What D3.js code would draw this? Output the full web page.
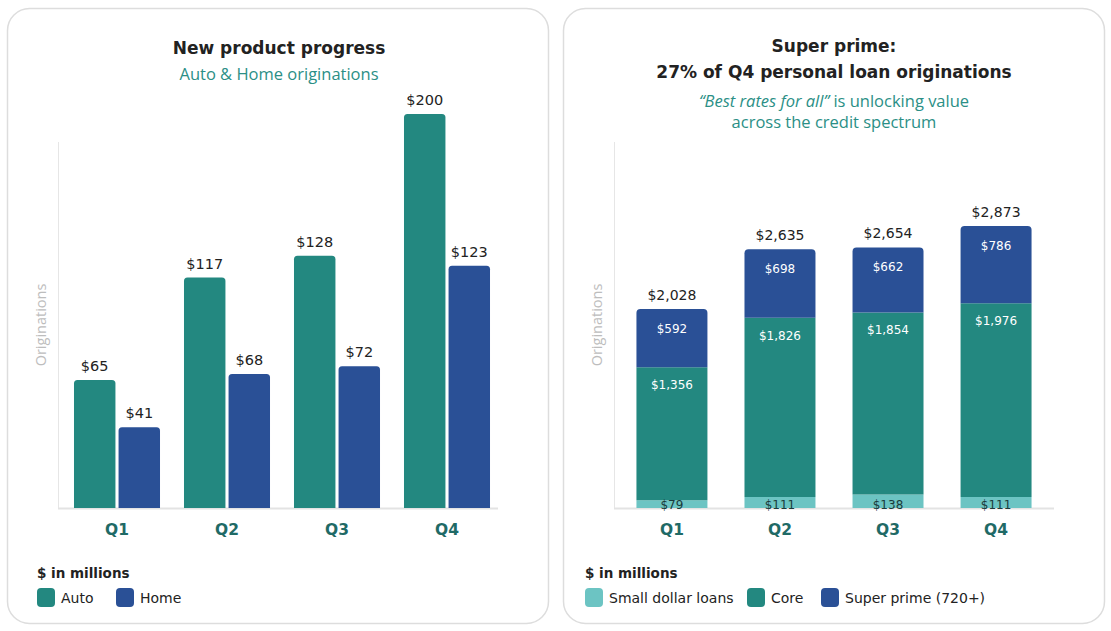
<!DOCTYPE html>
<html>
<head>
<meta charset="utf-8">
<script src="https://cdn.jsdelivr.net/npm/d3@7"></script>
<style>
  html, body { margin: 0; padding: 0; background: #ffffff; }
  svg { display: block; }
</style>
</head>
<body>
<svg id="chart" width="1111" height="631"></svg>
<script>
// ---- Data ----
const quarters = ["Q1", "Q2", "Q3", "Q4"];
const autoValues = [65, 117, 128, 200];
const homeValues = [41, 68, 72, 123];
const leftSeries = ["Auto", "Home"];

const smallDollarValues = [79, 111, 138, 111];
const coreValues = [1356, 1826, 1854, 1976];
const superPrimeValues = [592, 698, 662, 786];
const totalValues = [2028, 2635, 2654, 2873];
const rightSeries = ["Small dollar loans", "Core", "Super prime (720+)"];

// ---- Styles ----
const C_TEAL = "#238880";
const C_BLUE = "#2a5096";
const C_LIGHT = "#6cc4c3";
const C_SUB = "#2b8f86";
const C_TEXT = "#222222";
const C_QLAB = "#1f6a66";
const FONT_HEAD = "'DejaVu Sans', sans-serif";
const FONT_BODY = "'Open Sans', sans-serif";

const svg = d3.select("#chart");

// Card backgrounds
svg.append("rect").attr("x", 7.5).attr("y", 8.5).attr("width", 541).attr("height", 615)
  .attr("rx", 22).attr("fill", "#fff").attr("stroke", "#dddddd").attr("stroke-width", 1.5);
svg.append("rect").attr("x", 563.5).attr("y", 8.5).attr("width", 541).attr("height", 615)
  .attr("rx", 22).attr("fill", "#fff").attr("stroke", "#dddddd").attr("stroke-width", 1.5);

function topRoundedPath(x, y, w, h, r) {
  r = Math.min(r, h, w / 2);
  return `M${x},${y + h}V${y + r}Q${x},${y} ${x + r},${y}H${x + w - r}Q${x + w},${y} ${x + w},${y + r}V${y + h}Z`;
}

// ============ LEFT CHART ============
const L = svg.append("g");
L.append("text").attr("x", 279).attr("y", 54).attr("text-anchor", "middle")
  .attr("font-family", FONT_HEAD).attr("font-weight", 700).attr("font-size", 17)
  .attr("fill", C_TEXT).text("New product progress");
L.append("text").attr("x", 279).attr("y", 80).attr("text-anchor", "middle")
  .attr("font-family", FONT_BODY).attr("font-size", 16.5)
  .attr("fill", C_SUB).text("Auto & Home originations");

const lx = d3.scaleBand().domain(quarters).range([62, 502]).paddingInner(0.218).paddingOuter(0.109);
const ly = d3.scaleLinear().domain([0, 200]).range([508, 114]);
const lsub = d3.scaleBand().domain(leftSeries).range([0, lx.bandwidth()]).paddingInner(0.07);

// axis lines
L.append("line").attr("x1", 58.5).attr("x2", 58.5).attr("y1", 142).attr("y2", 508)
  .attr("stroke", "#e6e6e6").attr("stroke-width", 1);
L.append("line").attr("x1", 58).attr("x2", 498).attr("y1", 508.5).attr("y2", 508.5)
  .attr("stroke", "#e3e3e3").attr("stroke-width", 2);

L.append("text").attr("transform", "translate(46,325) rotate(-90)").attr("text-anchor", "middle")
  .attr("font-family", FONT_BODY).attr("font-size", 14.5).attr("fill", "#bdbdbd").text("Originations");

const leftData = quarters.map((q, i) => ({ q, vals: [
  { s: "Auto", v: autoValues[i], c: C_TEAL },
  { s: "Home", v: homeValues[i], c: C_BLUE }
]}));

const lg = L.selectAll("g.grp").data(leftData).join("g").attr("class", "grp")
  .attr("transform", d => `translate(${lx(d.q)},0)`);
lg.selectAll("path").data(d => d.vals).join("path")
  .attr("d", d => topRoundedPath(lsub(d.s), ly(d.v), lsub.bandwidth(), ly(0) - ly(d.v), 3.5))
  .attr("fill", d => d.c);
lg.selectAll("text.val").data(d => d.vals).join("text").attr("class", "val")
  .attr("x", d => lsub(d.s) + lsub.bandwidth() / 2).attr("y", d => ly(d.v) - 9)
  .attr("text-anchor", "middle").attr("font-family", FONT_HEAD).attr("font-size", 14.5)
  .attr("fill", C_TEXT).text(d => "$" + d.v);

// x axis labels
const lxAxis = L.append("g").attr("transform", "translate(0,508)")
  .call(d3.axisBottom(lx).tickSize(0).tickPadding(16));
lxAxis.select(".domain").remove();
lxAxis.selectAll("text").attr("font-family", FONT_HEAD).attr("font-weight", 700)
  .attr("font-size", 15.5).attr("fill", C_QLAB);

// legend
L.append("text").attr("x", 37).attr("y", 578).attr("font-family", FONT_HEAD).attr("font-weight", 700)
  .attr("font-size", 13.5).attr("fill", C_TEXT).text("$ in millions");
const leftLegend = [{ s: "Auto", c: C_TEAL, x: 37 }, { s: "Home", c: C_BLUE, x: 116 }];
const llg = L.selectAll("g.leg").data(leftLegend).join("g").attr("class", "leg")
  .attr("transform", d => `translate(${d.x},588)`);
llg.append("rect").attr("width", 18).attr("height", 19).attr("rx", 4).attr("fill", d => d.c);
llg.append("text").attr("x", 24).attr("y", 15).attr("font-family", FONT_HEAD).attr("font-size", 14)
  .attr("fill", C_TEXT).text(d => d.s);

// ============ RIGHT CHART ============
const R = svg.append("g");
R.append("text").attr("x", 834).attr("y", 52).attr("text-anchor", "middle")
  .attr("font-family", FONT_HEAD).attr("font-weight", 700).attr("font-size", 17)
  .attr("fill", C_TEXT).text("Super prime:");
R.append("text").attr("x", 834).attr("y", 78).attr("text-anchor", "middle")
  .attr("font-family", FONT_HEAD).attr("font-weight", 700).attr("font-size", 17)
  .attr("fill", C_TEXT).text("27% of Q4 personal loan originations");
const sub1 = R.append("text").attr("x", 834).attr("y", 107).attr("text-anchor", "middle")
  .attr("font-family", FONT_BODY).attr("font-size", 16.5).attr("fill", C_SUB);
sub1.append("tspan").attr("font-style", "italic").text("\u201CBest rates for all\u201D");
sub1.append("tspan").text(" is unlocking value");
R.append("text").attr("x", 834).attr("y", 128).attr("text-anchor", "middle")
  .attr("font-family", FONT_BODY).attr("font-size", 16.5).attr("fill", C_SUB)
  .text("across the credit spectrum");

const rx = d3.scaleBand().domain(quarters).range([617, 1051]).paddingInner(0.343).paddingOuter(0.18);
const ry = d3.scaleLinear().domain([0, 2873]).range([508, 226]);

R.append("line").attr("x1", 614.5).attr("x2", 614.5).attr("y1", 142).attr("y2", 508)
  .attr("stroke", "#e6e6e6").attr("stroke-width", 1);
R.append("line").attr("x1", 614).attr("x2", 1054).attr("y1", 508.5).attr("y2", 508.5)
  .attr("stroke", "#e3e3e3").attr("stroke-width", 2);

R.append("text").attr("transform", "translate(602,325) rotate(-90)").attr("text-anchor", "middle")
  .attr("font-family", FONT_BODY).attr("font-size", 14.5).attr("fill", "#bdbdbd").text("Originations");

const rightData = quarters.map((q, i) => {
  const segs = [
    { s: rightSeries[0], v: smallDollarValues[i], c: C_LIGHT },
    { s: rightSeries[1], v: coreValues[i], c: C_TEAL },
    { s: rightSeries[2], v: superPrimeValues[i], c: C_BLUE }
  ];
  let acc = 0;
  segs.forEach(sg => { sg.y0 = acc; acc += sg.v; sg.y1 = acc; });
  return { q, segs, total: totalValues[i] };
});

const rg = R.selectAll("g.grp").data(rightData).join("g").attr("class", "grp")
  .attr("transform", d => `translate(${rx(d.q)},0)`);
rg.selectAll("path").data(d => d.segs).join("path")
  .attr("d", (d, i) => i === 2
    ? topRoundedPath(0, ry(d.y1), rx.bandwidth(), ry(d.y0) - ry(d.y1), 4)
    : `M0,${ry(d.y0)}V${ry(d.y1)}H${rx.bandwidth()}V${ry(d.y0)}Z`)
  .attr("fill", d => d.c);

// segment labels
rg.each(function (d) {
  const g = d3.select(this);
  const w = rx.bandwidth();
  const [sd, core, sp] = d.segs;
  g.append("text").attr("x", w / 2).attr("y", 509).attr("text-anchor", "middle")
    .attr("font-family", FONT_HEAD).attr("font-size", 12).attr("fill", "#1b3b3a")
    .text("$" + d3.format(",")(sd.v));
  g.append("text").attr("x", w / 2).attr("y", ry(core.y1) + 22).attr("text-anchor", "middle")
    .attr("font-family", FONT_HEAD).attr("font-size", 12).attr("fill", "#ffffff")
    .text("$" + d3.format(",")(core.v));
  g.append("text").attr("x", w / 2).attr("y", ry(sp.y1) + 24).attr("text-anchor", "middle")
    .attr("font-family", FONT_HEAD).attr("font-size", 12).attr("fill", "#ffffff")
    .text("$" + d3.format(",")(sp.v));
  g.append("text").attr("x", w / 2).attr("y", ry(d.total) - 9).attr("text-anchor", "middle")
    .attr("font-family", FONT_HEAD).attr("font-size", 14).attr("fill", C_TEXT)
    .text("$" + d3.format(",")(d.total));
});

const rxAxis = R.append("g").attr("transform", "translate(0,508)")
  .call(d3.axisBottom(rx).tickSize(0).tickPadding(16));
rxAxis.select(".domain").remove();
rxAxis.selectAll("text").attr("font-family", FONT_HEAD).attr("font-weight", 700)
  .attr("font-size", 15.5).attr("fill", C_QLAB);

R.append("text").attr("x", 585).attr("y", 578).attr("font-family", FONT_HEAD).attr("font-weight", 700)
  .attr("font-size", 13.5).attr("fill", C_TEXT).text("$ in millions");
const rightLegend = [
  { s: rightSeries[0], c: C_LIGHT, x: 585 },
  { s: rightSeries[1], c: C_TEAL, x: 747 },
  { s: rightSeries[2], c: C_BLUE, x: 821 }
];
const rlg = R.selectAll("g.leg").data(rightLegend).join("g").attr("class", "leg")
  .attr("transform", d => `translate(${d.x},588)`);
rlg.append("rect").attr("width", 18).attr("height", 19).attr("rx", 4).attr("fill", d => d.c);
rlg.append("text").attr("x", 24).attr("y", 15).attr("font-family", FONT_HEAD).attr("font-size", 14)
  .attr("fill", C_TEXT).text(d => d.s);
</script>
</body>
</html>
